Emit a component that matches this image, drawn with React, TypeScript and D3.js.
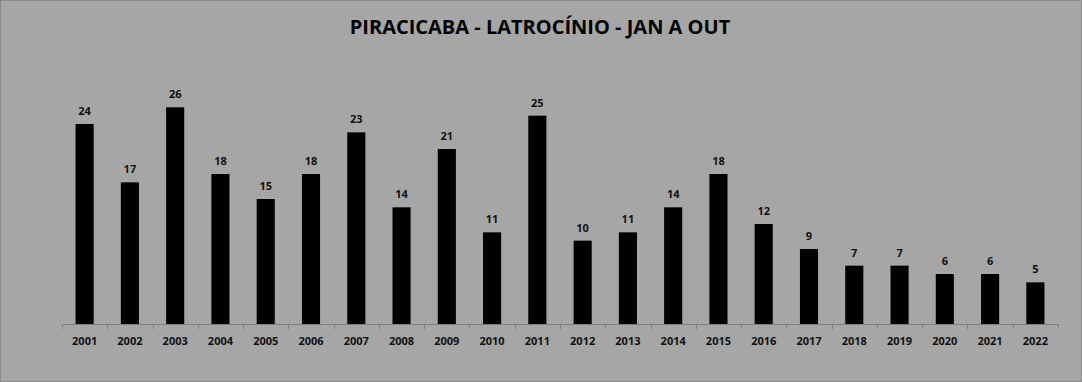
import React from "react";
import * as d3 from "d3";

const years = ["2001","2002","2003","2004","2005","2006","2007","2008","2009","2010","2011","2012","2013","2014","2015","2016","2017","2018","2019","2020","2021","2022"];
const values = [24,17,26,18,15,18,23,14,21,11,25,10,11,14,18,12,9,7,7,6,6,5];
const title = "PIRACICABA - LATROCÍNIO - JAN A OUT";

export default function App() {
  const W = 1082, H = 382;
  const x0 = 62, x1 = 1058, yBase = 324;
  const x = d3.scaleBand().domain(years).range([x0, x1]).paddingInner(0.6).paddingOuter(0.3);
  const y = d3.scaleLinear().domain([0, 30]).range([yBase, yBase - 250]);
  const step = (x1 - x0) / years.length;
  const font = "'Open Sans', 'Liberation Sans', sans-serif";
  return (
    <svg width={W} height={H} style={{ position: "absolute", left: 0, top: 0 }}>
      <rect x={0.5} y={0.5} width={W - 1} height={H - 1} fill="#a6a6a6" stroke="#8a8a8a" />
      <text x={540} y={34} textAnchor="middle" fontFamily={font} fontWeight="bold" fontSize={20} fill="#000">{title}</text>
      {years.map((yr, i) => (
        <g key={yr}>
          <rect x={x(yr)} y={y(values[i])} width={x.bandwidth()} height={yBase - y(values[i])} fill="#000" />
          <text x={x(yr)! + x.bandwidth() / 2} y={y(values[i]) - 9} textAnchor="middle" fontFamily={font} fontWeight="bold" fontSize={11} fill="#111">{values[i]}</text>
          <text x={x(yr)! + x.bandwidth() / 2} y={345} textAnchor="middle" fontFamily={font} fontWeight="bold" fontSize={11} fill="#111">{yr}</text>
        </g>
      ))}
      <line x1={x0} x2={x1} y1={yBase + 0.5} y2={yBase + 0.5} stroke="#808080" />
      {d3.range(years.length + 1).map(i => (
        <line key={i} x1={Math.round(x0 + i * step) + 0.5} x2={Math.round(x0 + i * step) + 0.5} y1={yBase} y2={yBase + 5} stroke="#808080" />
      ))}
    </svg>
  );
}
